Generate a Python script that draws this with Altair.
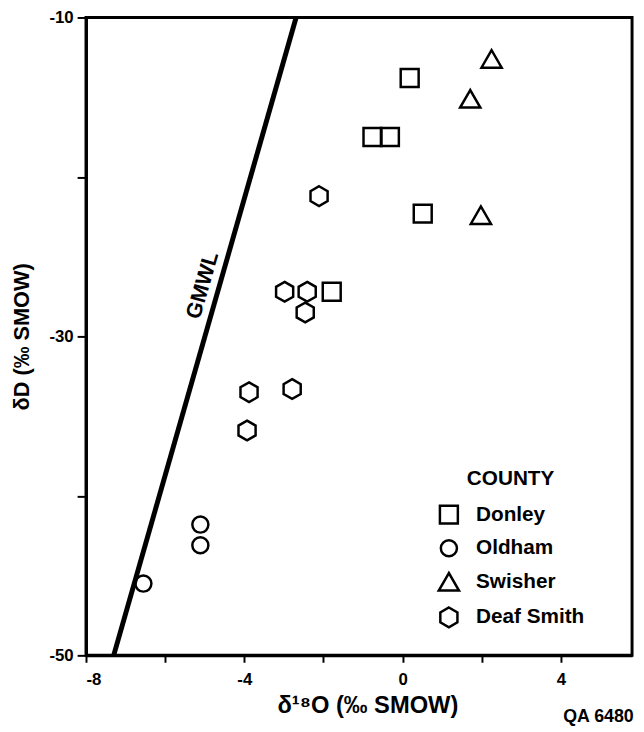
import altair as alt
import pandas as pd

FONT = "Liberation Sans"

# County samples: delta 18O and delta D (per mil SMOW)
counties = ["Donley", "Oldham", "Swisher", "Deaf Smith"]
donley_x = [0.18, -0.76, -0.32, 0.51, -1.79]
donley_y = [-13.8, -17.5, -17.5, -22.3, -27.2]
oldham_x = [-5.11, -5.11, -6.55]
oldham_y = [-41.8, -43.1, -45.5]
swisher_x = [2.25, 1.71, 1.98]
swisher_y = [-12.6, -15.1, -22.4]
deaf_x = [-2.11, -2.98, -2.41, -2.46, -3.88, -2.79, -3.93]
deaf_y = [-21.2, -27.2, -27.2, -28.5, -33.5, -33.3, -35.9]

# GMWL line endpoints as drawn
gmwl_x = [-7.30, -2.69]
gmwl_y = [-50, -10]
gmwl_label_x = [-5.06]
gmwl_label_y = [-26.8]

rows = []
for name, xs, ys in [("Donley", donley_x, donley_y), ("Oldham", oldham_x, oldham_y),
                     ("Swisher", swisher_x, swisher_y), ("Deaf Smith", deaf_x, deaf_y)]:
    for a, b in zip(xs, ys):
        rows.append({"x": a, "y": b, "County": name})
df = pd.DataFrame(rows)
line_df = pd.DataFrame({"x": gmwl_x, "y": gmwl_y})
label_df = pd.DataFrame({"x": gmwl_label_x, "y": gmwl_label_y, "t": ["GMWL"]})

hexagon = "M0,-1L0.866,-0.5L0.866,0.5L0,1L-0.866,0.5L-0.866,-0.5Z"
shapes = ["square", "circle", "triangle-up", hexagon]
sizes = [330, 265, 420, 400]

x_scale = alt.Scale(domain=[-8, 5.8], nice=False, zero=False)
y_scale = alt.Scale(domain=[-50, -10], nice=False, zero=False)

xaxis = alt.Axis(values=[-8, -6, -4, -2, 0, 2, 4],
                 labelExpr="datum.value % 4 == 0 ? '' + datum.value : ''",
                 title="δ¹⁸O (‰ SMOW)", grid=False,
                 domainColor="black", domainWidth=3, tickColor="black", tickWidth=2, tickSize=7,
                 labelFont=FONT, labelFontSize=17, labelFontWeight="bold", labelColor="black",
                 labelPadding=10, titleFont=FONT, titleFontSize=24, titleFontWeight="bold",
                 titleColor="black", titlePadding=6, titleX=285)
yaxis = alt.Axis(values=[-50, -40, -30, -20, -10],
                 labelExpr="abs(datum.value) % 20 == 10 ? '' + datum.value : ''",
                 title="δD (‰ SMOW)", grid=False,
                 domainColor="black", domainWidth=3, tickColor="black", tickWidth=2, tickSize=9,
                 labelFont=FONT, labelFontSize=17, labelFontWeight="bold", labelColor="black",
                 labelPadding=4, titleFont=FONT, titleFontSize=22, titleFontWeight="bold",
                 titleColor="black", titlePadding=16)

X = alt.X("x:Q", scale=x_scale, axis=xaxis)
Y = alt.Y("y:Q", scale=y_scale, axis=yaxis)

legend = alt.Legend(title="COUNTY", orient="none", legendX=356, legendY=456,
                    titleAnchor="middle", titleFont=FONT, titleFontSize=21,
                    titleFontWeight="bold", titleColor="black", titlePadding=16,
                    labelFont=FONT, labelFontSize=21, labelFontWeight="bold",
                    labelColor="black", labelOffset=16, rowPadding=6, padding=0,
                    symbolStrokeColor="black", symbolStrokeWidth=2.5)

points = alt.Chart(df).mark_point(filled=False, color="black", strokeWidth=2.5, opacity=1).encode(
    x=X, y=Y,
    shape=alt.Shape("County:N", scale=alt.Scale(domain=counties, range=shapes), legend=legend),
    size=alt.Size("County:N", scale=alt.Scale(type="ordinal", domain=counties, range=sizes),
                  legend=legend),
)

line = alt.Chart(line_df).mark_line(color="black", strokeWidth=5).encode(x=X, y=Y)

label = alt.Chart(label_df).mark_text(angle=286, font=FONT, fontSize=22, fontWeight="bold",
                                      color="black").encode(x=X, y=Y, text="t:N")

qa = alt.Chart(label_df).mark_text(font=FONT, fontSize=18, fontWeight="bold", color="black").encode(
    x=alt.value(519), y=alt.value(708), text=alt.value("QA 6480"))

chart = alt.layer(line, points, label, qa).properties(
    width=553, height=646,
    autosize=alt.AutoSizeParams(type="none"),
    padding={"left": 79, "top": 5, "right": 4, "bottom": 70},
).configure_view(stroke="black", strokeWidth=3)

chart.save("out.html", embed_options={"renderer": "svg", "actions": False})
